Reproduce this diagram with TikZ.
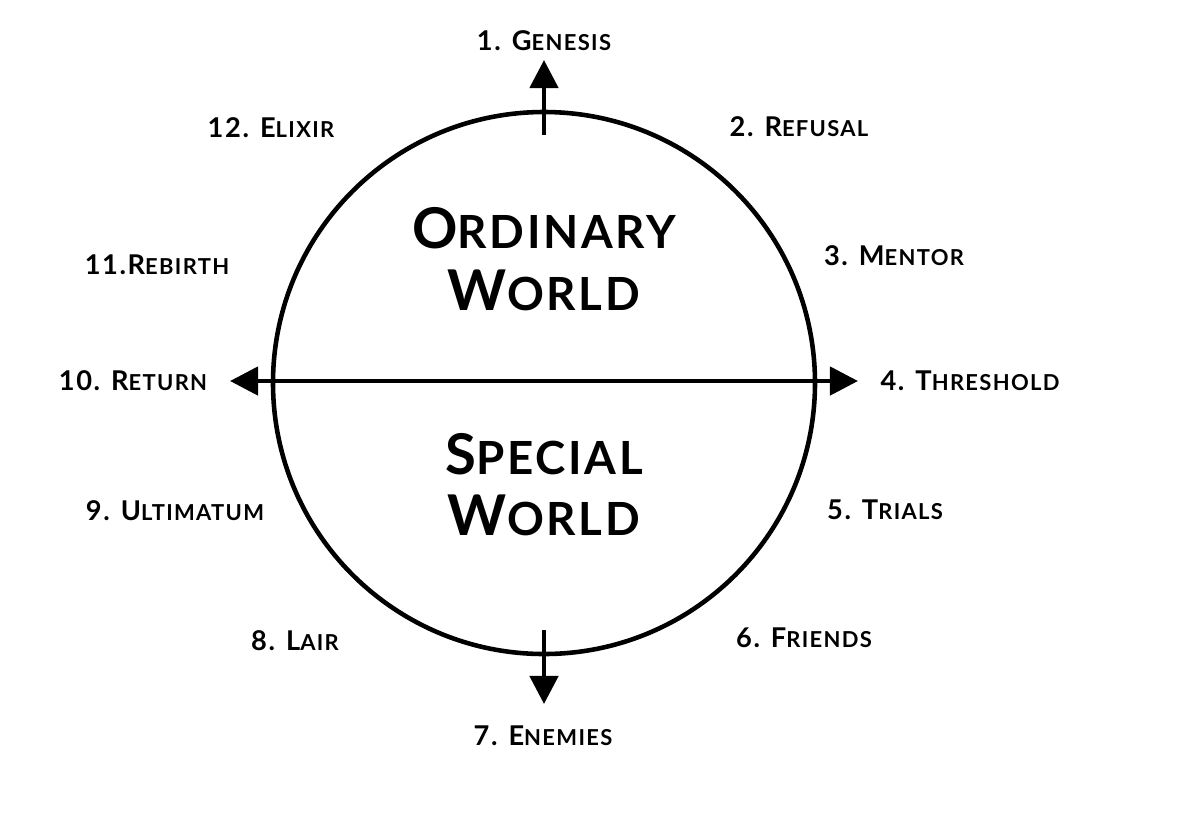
\documentclass[tikz,border=0pt]{standalone}
\usepackage{fontspec}
\setmainfont{Lato}
\usetikzlibrary{arrows.meta}
\newcommand\smc[1]{{\fontsize{12.5}{13}\selectfont #1}}
\newcommand\bigsmc[1]{{\fontsize{26}{28}\selectfont #1}}
\begin{document}
\begin{tikzpicture}[x=0.02cm,y=-0.02cm,
  lbl/.style={font=\fontsize{15.5}{17}\selectfont\bfseries\addfontfeature{LetterSpace=6}, inner sep=0pt, anchor=center},
  ttl/.style={font=\fontsize{32}{34}\selectfont\bfseries\addfontfeature{LetterSpace=6}, inner sep=0pt, anchor=center},
  ring/.style={line width=2.6pt},
  arr/.style={line width=2.6pt, -{Triangle[length=16pt,width=16pt]}}]
\useasboundingbox (0,0) rectangle (1200,823);
\node[draw, circle, ring, minimum size=542*0.02cm, inner sep=0pt] (c) at (544,383) {};
\coordinate (tin) at (544,135);
\coordinate (ttip) at (544,60);
\coordinate (bin) at (544,630);
\coordinate (btip) at (544,704);
\coordinate (lt) at (230,381);
\coordinate (rt) at (858,381);
\draw[arr] (tin) -- (ttip);
\draw[arr] (bin) -- (btip);
\draw[arr, {Triangle[length=16pt,width=16pt]}-{Triangle[length=16pt,width=16pt]}] (lt) -- (rt);
\node[ttl] (ord) at (544,228) {O\bigsmc{RDINARY}};
\node[ttl] (ow) at (544,290) {W\bigsmc{ORLD}};
\node[ttl] (spe) at (544,454) {S\bigsmc{PECIAL}};
\node[ttl] (sw) at (544,515) {W\bigsmc{ORLD}};
\node[lbl] (l1) at (544,41) {1. G\smc{ENESIS}};
\node[lbl] (l2) at (799,127) {2. R\smc{EFUSAL}};
\node[lbl] (l3) at (894,256) {3. M\smc{ENTOR}};
\node[lbl] (l4) at (970,381) {4. T\smc{HRESHOLD}};
\node[lbl] (l5) at (885,510) {5. T\smc{RIALS}};
\node[lbl] (l6) at (804,638) {6. F\smc{RIENDS}};
\node[lbl] (l7) at (543,736) {7. E\smc{NEMIES}};
\node[lbl] (l8) at (295,641) {8. L\smc{AIR}};
\node[lbl] (l9) at (175,511) {9. U\smc{LTIMATUM}};
\node[lbl] (l10) at (133,381) {10. R\smc{ETURN}};
\node[lbl] (l11) at (157,265) {11.R\smc{EBIRTH}};
\node[lbl] (l12) at (271,128) {12. E\smc{LIXIR}};
\end{tikzpicture}
\end{document}
